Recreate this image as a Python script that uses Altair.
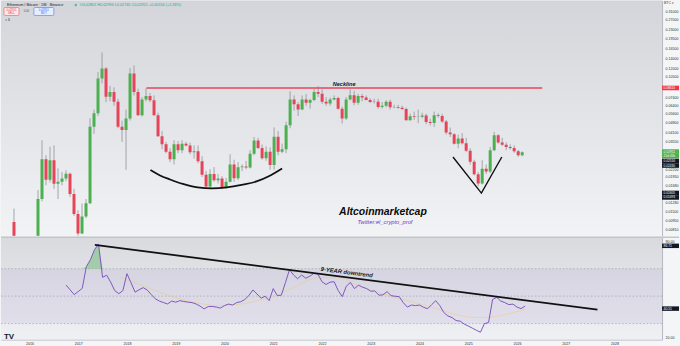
import altair as alt
import pandas as pd

# ---------------- data ----------------
# month index: 0 = Jan 2016, 12 = Jan 2017 ...
MONTHS = list(range(-5, 123))
OPEN = [0.0092, 0.0059, 0.0027, 0.0031, 0.0024, 0.0021, 0.0060, 0.0135, 0.0262, 0.0186,
        0.0258, 0.0174, 0.0180, 0.0190, 0.0206, 0.0147, 0.0105, 0.0076, 0.0101, 0.0126,
        0.0450, 0.0565, 0.1010, 0.1190, 0.0745, 0.0805, 0.0685, 0.0450, 0.0427, 0.0517,
        0.1094, 0.0804, 0.0547, 0.0711, 0.0752, 0.0702, 0.0547, 0.0385, 0.0337, 0.0297,
        0.0262, 0.0337, 0.0305, 0.0340, 0.0330, 0.0295, 0.0300, 0.0254, 0.0202, 0.0166,
        0.0205, 0.0185, 0.0190, 0.0164, 0.0180, 0.0240, 0.0191, 0.0229, 0.0232, 0.0228,
        0.0287, 0.0358, 0.0316, 0.0267, 0.0297, 0.0238, 0.0381, 0.0297, 0.0310, 0.0463,
        0.0711, 0.0656, 0.0602, 0.0711, 0.0672, 0.0705, 0.0804, 0.0782, 0.0683, 0.0665,
        0.0711, 0.0728, 0.0610, 0.0517, 0.0711, 0.0763, 0.0672, 0.0752, 0.0735, 0.0705,
        0.0680, 0.0685, 0.0627, 0.0640, 0.0683, 0.0625, 0.0628, 0.0620, 0.0607, 0.0503,
        0.0537, 0.0530, 0.0532, 0.0545, 0.0487, 0.0480, 0.0547, 0.0540, 0.0492, 0.0409,
        0.0398, 0.0340, 0.0370, 0.0343, 0.0302, 0.0251, 0.0204, 0.0175, 0.0224, 0.0214,
        0.0305, 0.0392, 0.0346, 0.0334, 0.0322, 0.0316, 0.0300, 0.0280]
HIGH = [0.0115, 0.0064, 0.0032, 0.0033, 0.0027, 0.0062, 0.0157, 0.0360, 0.0280, 0.0323,
        0.0330, 0.0225, 0.0212, 0.0218, 0.0210, 0.0160, 0.0112, 0.0125, 0.0135, 0.0520,
        0.0600, 0.1120, 0.1560, 0.1220, 0.0890, 0.0870, 0.0720, 0.0500, 0.0600, 0.1200,
        0.1257, 0.0850, 0.0740, 0.0857, 0.0790, 0.0760, 0.0570, 0.0420, 0.0350, 0.0315,
        0.0360, 0.0355, 0.0360, 0.0350, 0.0345, 0.0330, 0.0330, 0.0275, 0.0215, 0.0222,
        0.0230, 0.0205, 0.0198, 0.0192, 0.0285, 0.0260, 0.0250, 0.0240, 0.0255, 0.0305,
        0.0380, 0.0375, 0.0335, 0.0325, 0.0320, 0.0446, 0.0420, 0.0340, 0.0490, 0.0816,
        0.0760, 0.0680, 0.0760, 0.0780, 0.0720, 0.0845, 0.0888, 0.0840, 0.0740, 0.0735,
        0.0760, 0.0745, 0.0630, 0.0740, 0.0845, 0.0820, 0.0780, 0.0780, 0.0760, 0.0725,
        0.0720, 0.0720, 0.0680, 0.0700, 0.0710, 0.0650, 0.0650, 0.0640, 0.0620, 0.0560,
        0.0580, 0.0600, 0.0570, 0.0560, 0.0515, 0.0580, 0.0565, 0.0560, 0.0505, 0.0445,
        0.0405, 0.0395, 0.0405, 0.0375, 0.0315, 0.0260, 0.0212, 0.0258, 0.0240, 0.0322,
        0.0414, 0.0398, 0.0375, 0.0348, 0.0336, 0.0330, 0.0306, 0.0299]
LOW = [0.0021, 0.0025, 0.0018, 0.0021, 0.0020, 0.0020, 0.0058, 0.0130, 0.0170, 0.0178,
       0.0160, 0.0135, 0.0170, 0.0182, 0.0140, 0.0102, 0.0070, 0.0075, 0.0098, 0.0124,
       0.0400, 0.0540, 0.0930, 0.0680, 0.0690, 0.0640, 0.0440, 0.0350, 0.0220, 0.0500,
       0.0760, 0.0540, 0.0535, 0.0690, 0.0680, 0.0540, 0.0380, 0.0310, 0.0290, 0.0250,
       0.0240, 0.0290, 0.0290, 0.0325, 0.0285, 0.0265, 0.0245, 0.0195, 0.0162, 0.0160,
       0.0180, 0.0175, 0.0160, 0.0160, 0.0178, 0.0180, 0.0185, 0.0215, 0.0222, 0.0225,
       0.0280, 0.0310, 0.0260, 0.0255, 0.0220, 0.0220, 0.0280, 0.0290, 0.0290, 0.0440,
       0.0590, 0.0540, 0.0595, 0.0640, 0.0610, 0.0690, 0.0740, 0.0660, 0.0640, 0.0640,
       0.0700, 0.0600, 0.0476, 0.0505, 0.0700, 0.0645, 0.0650, 0.0690, 0.0700, 0.0670,
       0.0665, 0.0610, 0.0610, 0.0625, 0.0600, 0.0615, 0.0610, 0.0595, 0.0500, 0.0500,
       0.0505, 0.0480, 0.0520, 0.0470, 0.0460, 0.0450, 0.0525, 0.0480, 0.0395, 0.0380,
       0.0335, 0.0315, 0.0335, 0.0295, 0.0240, 0.0200, 0.0167, 0.0172, 0.0205, 0.0208,
       0.0300, 0.0340, 0.0328, 0.0305, 0.0308, 0.0292, 0.0273, 0.0275]
CLOSE = [0.0059, 0.0027, 0.0031, 0.0024, 0.0021, 0.0060, 0.0135, 0.0262, 0.0186, 0.0258,
         0.0174, 0.0180, 0.0190, 0.0206, 0.0147, 0.0105, 0.0076, 0.0101, 0.0126, 0.0450,
         0.0565, 0.1010, 0.1190, 0.0745, 0.0805, 0.0685, 0.0450, 0.0427, 0.0517, 0.1094,
         0.0804, 0.0547, 0.0711, 0.0752, 0.0702, 0.0547, 0.0385, 0.0337, 0.0297, 0.0262,
         0.0337, 0.0305, 0.0340, 0.0330, 0.0295, 0.0300, 0.0254, 0.0202, 0.0166, 0.0205,
         0.0185, 0.0190, 0.0164, 0.0180, 0.0240, 0.0191, 0.0229, 0.0232, 0.0228, 0.0287,
         0.0358, 0.0316, 0.0267, 0.0297, 0.0238, 0.0381, 0.0297, 0.0310, 0.0463, 0.0711,
         0.0656, 0.0602, 0.0711, 0.0672, 0.0705, 0.0804, 0.0782, 0.0683, 0.0665, 0.0711,
         0.0728, 0.0610, 0.0517, 0.0711, 0.0763, 0.0672, 0.0752, 0.0735, 0.0705, 0.0680,
         0.0685, 0.0627, 0.0640, 0.0683, 0.0625, 0.0628, 0.0620, 0.0607, 0.0503, 0.0537,
         0.0530, 0.0532, 0.0545, 0.0487, 0.0480, 0.0547, 0.0540, 0.0492, 0.0409, 0.0398,
         0.0340, 0.0370, 0.0343, 0.0302, 0.0251, 0.0204, 0.0175, 0.0224, 0.0214, 0.0305,
         0.0392, 0.0346, 0.0334, 0.0322, 0.0316, 0.0300, 0.0280, 0.0295]

RSI_MONTHS = list(range(9, 123))
RSI = [58.1, 54.7, 51.1, 53.3, 55.7, 71.5, 76.5, 83.8, 88.0, 63.7,
       65.3, 60.2, 54.0, 51.8, 54.0, 66.4, 59.8, 52.9, 54.7, 56.2,
       54.4, 51.1, 48.0, 46.4, 45.3, 44.3, 46.4, 45.6, 46.7, 46.1,
       45.6, 45.3, 44.3, 42.7, 40.7, 42.4, 42.5, 42.0, 41.3, 43.1,
       44.2, 43.5, 45.3, 45.9, 47.5, 50.4, 54.5, 51.6, 48.5, 50.0,
       46.7, 55.5, 50.4, 50.7, 59.8, 69.3, 65.4, 62.7, 65.4, 63.1,
       64.5, 66.6, 66.1, 60.5, 58.5, 60.2, 60.5, 54.0, 49.6, 57.3,
       60.0, 55.5, 58.0, 56.5, 55.5, 53.6, 53.8, 50.7, 50.9, 53.3,
       50.4, 49.9, 49.6, 45.3, 42.0, 43.5, 43.1, 43.5, 41.9, 40.8,
       43.8, 46.7, 43.1, 38.0, 35.5, 34.4, 32.2, 31.8, 29.6, 28.2,
       26.7, 25.1, 23.7, 30.0, 30.7, 47.6, 49.1, 46.4, 45.3, 43.8,
       44.2, 42.0, 40.9, 42.7]
MA_MONTHS = [22, 26, 31, 36, 41, 46, 51, 56, 61, 66, 71, 76, 81, 86, 91, 96, 101, 106, 111, 116, 120, 122]
MA = [64.2, 59.8, 54.0, 48.9, 45.3, 43.1, 43.8, 46.7, 51.1, 57.6, 63.5, 63.5, 57.6, 52.5, 48.2,
      44.5, 40.2, 35.8, 34.4, 35.8, 38.7, 40.2]

PRICE_TICKS = [0.31, 0.27, 0.23, 0.195, 0.165, 0.14, 0.12, 0.105, 0.074, 0.064, 0.056, 0.048,
               0.041, 0.0355, 0.022, 0.0195, 0.0168, 0.0128, 0.011, 0.0095, 0.0081]
RSI_TICKS = [20, 30, 40, 50, 60, 70, 80, 90]
TIME_TICKS = list(range(0, 156, 6))

NECK_M = [28.1, 127.0]
NECK_P = 0.0861
CUP_M = [29.1, 31.5, 34.0, 37.2, 40.9, 44.5, 48.2, 51.9, 55.6, 58.8, 62.0]
CUP_P = [0.0219, 0.0200, 0.0187, 0.01735, 0.01637, 0.0161, 0.01637, 0.01707, 0.01809, 0.01982, 0.02246]
V_M = [104.7, 111.8, 116.9]
V_P = [0.0272, 0.0149, 0.0272]
TREND_M = [16.1, 139.8]
TREND_R = [87.4, 40.2]

# ---------------- layout constants ----------------
W, H1, H2 = 663, 236, 103
FONT = "Liberation Sans"

xscale = alt.Scale(domain=[-7.0, 155.7], nice=False, zero=False)
pscale = alt.Scale(type="log", domain=[0.007304, 0.3706], nice=False)
rscale = alt.Scale(domain=[18.36, 93.27], nice=False, zero=False)

one = pd.DataFrame({"a": [0]})

cd = pd.DataFrame({"m": MONTHS, "open": OPEN, "high": HIGH, "low": LOW, "close": CLOSE})
cd["dir"] = ["up" if c >= o else "down" for o, c in zip(OPEN, CLOSE)]

price_axis = alt.Axis(orient="right", values=PRICE_TICKS, format=".5f", labelFontSize=3.6,
                      labelColor="#2a2e39", labelFont=FONT, ticks=False, grid=False, domain=True,
                      domainColor="#b2b5be", labelPadding=3, minExtent=17, maxExtent=17,
                      title=None, labelOverlap=False, labelBaseline="middle")
rsi_axis = alt.Axis(orient="right", values=RSI_TICKS, format=".2f", labelFontSize=3.6,
                    labelColor="#2a2e39", labelFont=FONT, ticks=False, grid=False, domain=True,
                    domainColor="#b2b5be", labelPadding=3, minExtent=17, maxExtent=17,
                    title=None, labelOverlap=False)
time_axis = alt.Axis(values=TIME_TICKS,
                     labelExpr="datum.value % 12 == 0 ? toString(2016 + datum.value / 12) : 'Jul'",
                     labelFontSize=3.6, labelColor="#2a2e39", labelFont=FONT, ticks=False,
                     grid=False, domain=True, domainColor="#b2b5be", labelPadding=2.5,
                     minExtent=7, maxExtent=7, title=None, labelOverlap=False)

# ---------------- price pane ----------------
bg1 = alt.Chart(one).mark_rect(
    color=alt.LinearGradient(gradient="linear", x1=0, x2=0, y1=0, y2=1,
                             stops=[alt.GradientStop(color="#d3d5da", offset=0),
                                    alt.GradientStop(color="#f2f3f5", offset=1)])
).encode(x=alt.value(0), x2=alt.value(W), y=alt.value(0), y2=alt.value(H1))

wicks = alt.Chart(cd).mark_rule(color="#8f939b", strokeWidth=0.8, clip=True).encode(
    x=alt.X("m:Q", scale=xscale, axis=None),
    y=alt.Y("low:Q", scale=pscale, axis=price_axis),
    y2="high:Q")
bodies = alt.Chart(cd).mark_bar(size=3, clip=True).encode(
    x="m:Q", y="open:Q", y2="close:Q",
    color=alt.Color("dir:N", scale=alt.Scale(domain=["up", "down"], range=["#4caf50", "#e84459"]),
                    legend=None))

neck = alt.Chart(pd.DataFrame({"m1": [NECK_M[0]], "m2": [NECK_M[1]], "p": [NECK_P]})).mark_rule(
    color="#e8455a", strokeWidth=1.4).encode(x="m1:Q", x2="m2:Q", y="p:Q")
neck_txt = alt.Chart(pd.DataFrame({"m": [77.5], "p": [0.0927], "t": ["Neckline"]})).mark_text(
    font=FONT, fontSize=5.6, fontStyle="italic", fontWeight="bold", color="#131722").encode(
    x="m:Q", y="p:Q", text="t:N")

cup = alt.Chart(pd.DataFrame({"m": CUP_M, "p": CUP_P})).mark_line(
    color="#111111", strokeWidth=1.8, interpolate="monotone").encode(x="m:Q", y="p:Q")
vee = alt.Chart(pd.DataFrame({"m": V_M, "p": V_P})).mark_line(
    color="#111111", strokeWidth=1.4).encode(x="m:Q", y="p:Q")

brand = alt.Chart(pd.DataFrame({"m": [87.2], "p": [0.01088], "t": ["Altcoinmarketcap"]})).mark_text(
    font=FONT, fontSize=10.5, fontStyle="italic", fontWeight="bold", color="#0b0b0b").encode(
    x="m:Q", y="p:Q", text="t:N")
tw = alt.Chart(pd.DataFrame({"m": [87.7], "p": [0.00922], "t": ["Twitter:el_crypto_prof"]})).mark_text(
    font=FONT, fontSize=5.8, fontStyle="italic", color="#6f42c1").encode(
    x="m:Q", y="p:Q", text="t:N")

# header texts (interface chrome)
hdr = alt.Chart(one).mark_text(align="left", baseline="middle", font=FONT, fontSize=3.8,
                               color="#131722").encode(
    x=alt.value(6), y=alt.value(4.5), text=alt.value("Ethereum / Bitcoin · 1M · Binance"))
dot = alt.Chart(one).mark_point(filled=True, size=6, color="#22ab94").encode(
    x=alt.value(75), y=alt.value(4.5))
ohlc = alt.Chart(one).mark_text(align="left", baseline="middle", font=FONT, fontSize=3.8,
                                color="#22ab94").encode(
    x=alt.value(79), y=alt.value(4.5),
    text=alt.value("O0.02801 H0.02994 L0.02745 C0.02951 +0.00150 (+5.36%)"))
sell_box = alt.Chart(one).mark_rect(fill="#fbe9eb", stroke="#f23645", strokeWidth=0.5,
                                    cornerRadius=1).encode(
    x=alt.value(3), x2=alt.value(18), y=alt.value(7), y2=alt.value(15))
buy_box = alt.Chart(one).mark_rect(fill="#e8eefc", stroke="#2962ff", strokeWidth=0.5,
                                   cornerRadius=1).encode(
    x=alt.value(33), x2=alt.value(53), y=alt.value(7), y2=alt.value(15))
sell_t = alt.Chart(pd.DataFrame({"t": ["0.02951", "SELL"], "yy": [9.5, 12.8]})).mark_text(
    font=FONT, fontSize=2.8, color="#f23645").encode(
    x=alt.value(10.5), y=alt.Y("yy:Q", scale=None), text="t:N")
buy_t = alt.Chart(pd.DataFrame({"t": ["0.02951", "BUY"], "yy": [9.5, 12.8]})).mark_text(
    font=FONT, fontSize=2.8, color="#2962ff").encode(
    x=alt.value(43), y=alt.Y("yy:Q", scale=None), text="t:N")
mid_t = alt.Chart(one).mark_text(font=FONT, fontSize=2.8, color="#555").encode(
    x=alt.value(25.5), y=alt.value(11), text=alt.value("0.00"))
chev = alt.Chart(one).mark_text(font=FONT, fontSize=3.5, color="#333", align="left").encode(
    x=alt.value(4), y=alt.value(19.5), text=alt.value("∨  6"))
btc = alt.Chart(one).mark_text(font=FONT, fontSize=3.5, color="#333", align="left").encode(
    x=alt.value(665), y=alt.value(3), text=alt.value("BTC ▾"))

# price labels on axis
plab = pd.DataFrame({
    "p": [0.0861, 0.0298, 0.02764, 0.02545, 0.0236, 0.01493, 0.01386],
    "t": ["0.08610", "0.02951", "21d 05h", "0.02516", "0.02430", "0.01605", "0.01493"],
    "c": ["#f23645", "#4caf50", "#4caf50", "#131722", "#131722", "#131722", "#131722"],
})
plab_box = alt.Chart(plab).mark_tick(orient="horizontal", size=17, thickness=4.6, opacity=1).encode(
    x=alt.value(671.5), y="p:Q", color=alt.Color("c:N", scale=None))
plab_txt = alt.Chart(plab).mark_text(align="left", baseline="middle", font=FONT, fontSize=3.2,
                                     color="white").encode(
    x=alt.value(664.5), y="p:Q", text="t:N")

price = alt.layer(bg1, wicks, bodies, neck, neck_txt, cup, vee, brand, tw, hdr, dot, ohlc,
                  sell_box, buy_box, sell_t, buy_t, mid_t, chev, btc, plab_box, plab_txt
                  ).properties(width=W, height=H1)

# ---------------- RSI pane ----------------
rd = pd.DataFrame({"m": RSI_MONTHS, "rsi": RSI})
md = pd.DataFrame({"m": MA_MONTHS, "ma": MA})

bg2 = alt.Chart(one).mark_rect(
    color=alt.LinearGradient(gradient="linear", x1=0, x2=0, y1=0, y2=1,
                             stops=[alt.GradientStop(color="#d8dade", offset=0),
                                    alt.GradientStop(color="#eff0f3", offset=1)])
).encode(x=alt.value(0), x2=alt.value(W), y=alt.value(0), y2=alt.value(H2))

band = alt.Chart(pd.DataFrame({"hi": [70], "lo": [30]})).mark_rect(
    color="#7e57c2", opacity=0.09).encode(
    x=alt.value(0), x2=alt.value(W),
    y=alt.Y("hi:Q", scale=rscale, axis=rsi_axis), y2="lo:Q")
levels = alt.Chart(pd.DataFrame({"lv": [70, 50, 30]})).mark_rule(
    color="#9598a1", strokeWidth=0.6, strokeDash=[1.5, 2]).encode(
    x=alt.value(0), x2=alt.value(W), y="lv:Q")
ob_fill = alt.Chart(rd).transform_calculate(top="max(datum.rsi, 70)").mark_area(
    color="#4caf50", opacity=0.4).encode(
    x=alt.X("m:Q", scale=xscale, axis=time_axis), y="top:Q", y2=alt.datum(70))
ma_line = alt.Chart(md).mark_line(color="#f2c14e", strokeWidth=1, opacity=0.35,
                                  interpolate="monotone").encode(x="m:Q", y="ma:Q")
rsi_line = alt.Chart(rd).mark_line(color="#7e57c2", strokeWidth=1).encode(x="m:Q", y="rsi:Q")
trend = alt.Chart(pd.DataFrame({"m": TREND_M, "r": TREND_R})).mark_line(
    color="#111111", strokeWidth=1.8).encode(x="m:Q", y="r:Q")
trend_txt = alt.Chart(pd.DataFrame({"m": [78.1], "r": [67.5], "t": ["9-YEAR downtrend"]})).mark_text(
    font=FONT, fontSize=5.8, fontStyle="italic", fontWeight="bold", color="#131722", angle=7.4).encode(
    x="m:Q", y="r:Q", text="t:N")
sep = alt.Chart(one).mark_rule(color="#c3c5ca", strokeWidth=1.5).encode(
    x=alt.value(0), x2=alt.value(680), y=alt.value(0.5))
tv = alt.Chart(one).mark_text(font=FONT, fontSize=8, fontWeight="bold", color="#131722",
                              align="left").encode(
    x=alt.value(3), y=alt.value(100.5), text=alt.value("TV"))
rlab = pd.DataFrame({"r": [86.7, 40.9], "t": ["86.71", "40.51"]})
rlab_box = alt.Chart(rlab).mark_tick(orient="horizontal", size=17, thickness=4.5, color="#131722",
                                     opacity=1).encode(x=alt.value(671.5), y="r:Q")
rlab_txt = alt.Chart(rlab).mark_text(align="left", baseline="middle", font=FONT, fontSize=3.4,
                                     color="white").encode(x=alt.value(664.5), y="r:Q", text="t:N")

rsi = alt.layer(bg2, band, levels, ob_fill, ma_line, rsi_line, trend, trend_txt, sep, tv,
                rlab_box, rlab_txt).properties(width=W, height=H2)

chart = alt.vconcat(price, rsi, spacing=0).properties(
    padding=0, background="#f4f5f7"
).configure_view(stroke=None)

chart.save("out.html", embed_options={"renderer": "svg", "actions": False})
